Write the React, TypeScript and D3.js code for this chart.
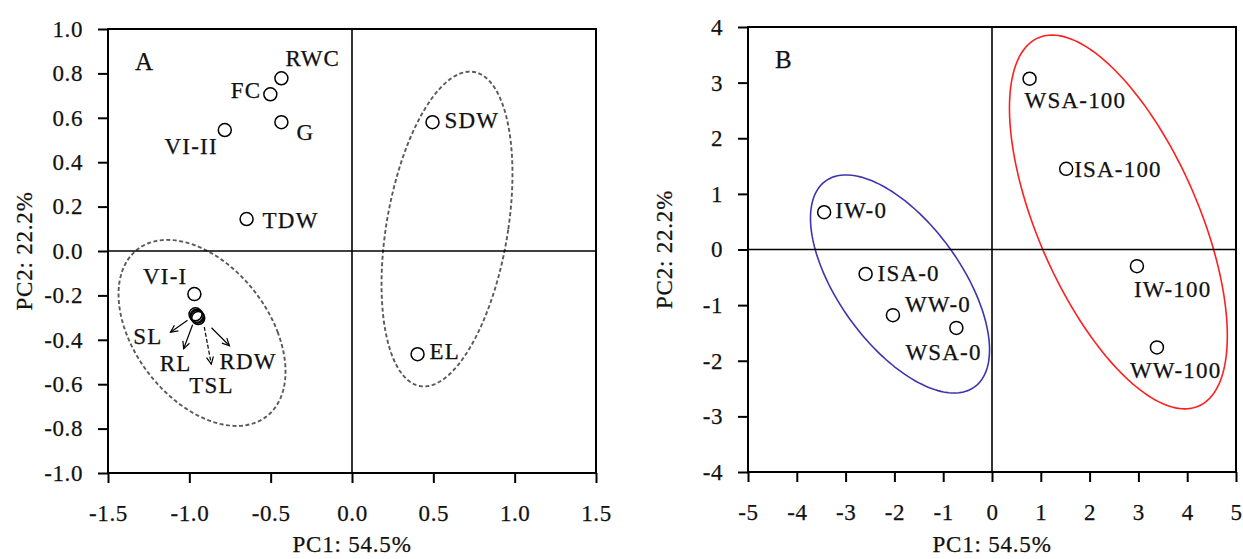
import React, { useEffect, useRef } from 'react'
import * as d3 from 'd3'

// Panel A - variable loadings
const varNames = ['RWC', 'FC', 'G', 'VI-II', 'TDW', 'SDW', 'EL', 'VI-I', 'SL', 'RL', 'TSL', 'RDW']
const varPC1 = [-0.434, -0.502, -0.434, -0.782, -0.648, 0.495, 0.403, -0.969, -0.962, -0.955, -0.945, -0.95]
const varPC2 = [0.778, 0.706, 0.58, 0.545, 0.144, 0.58, -0.465, -0.194, -0.285, -0.292, -0.302, -0.296]

// Panel B - treatment scores
const trtNames = ['WSA-100', 'ISA-100', 'IW-100', 'WW-100', 'IW-0', 'ISA-0', 'WW-0', 'WSA-0']
const trtPC1 = [0.77, 1.52, 2.97, 3.38, -3.44, -2.59, -2.03, -0.73]
const trtPC2 = [3.07, 1.45, -0.3, -1.76, 0.67, -0.44, -1.18, -1.41]

// group ellipses in data units: centre, x half-axis, x shear, y half-axis
const ellipseA = [
  { cx: -0.922, cy: -0.369, a: 0.467, b: -0.213, h: 0.419 },
  { cx: 0.584, cy: 0.099, a: 0.377, b: 0.141, h: 0.709 },
]
const ellipseB = [
  { cx: -1.885, cy: -0.62, a: 1.463, b: -1.107, h: 1.96 },
  { cx: 2.59, cy: 0.495, a: 1.77, b: -1.36, h: 3.36 },
]

const ticksA_x = [-1.5, -1.0, -0.5, 0.0, 0.5, 1.0, 1.5]
const ticksA_y = [-1.0, -0.8, -0.6, -0.4, -0.2, 0.0, 0.2, 0.4, 0.6, 0.8, 1.0]
const ticksB_x = [-5, -4, -3, -2, -1, 0, 1, 2, 3, 4, 5]
const ticksB_y = [-4, -3, -2, -1, 0, 1, 2, 3, 4]

// label placement (px from the point): dx, dy, anchor
const labelA: [number, number, string][] = [
  [4, -12, 'start'], [-9, 4, 'end'], [15, 18, 'start'], [-7, 24, 'end'], [16, 9, 'start'],
  [12, 6, 'start'], [12, 5, 'start'], [-7, -10, 'end'],
  [-33, 30, 'end'], [-37, 55, 'start'], [-9, 75, 'start'], [22, 52, 'start'],
]
const labelB: [number, number, string][] = [
  [-5, 29, 'start'], [8, 8, 'start'], [-3, 31, 'start'], [-27, 31, 'start'],
  [11, 6, 'start'], [12, 7, 'start'], [12, -3, 'start'], [-51, 32, 'start'],
]
// arrows for the overlapping cluster (index -> [x0, y0, x1, y1] px from point)
const arrowsA: Record<number, number[]> = {
  8: [-8, 6, -25, 18],
  9: [-4, 9, -13, 33],
  10: [6, 9, 13, 46],
  11: [14, 11, 32, 29],
}

const FONT = 'Liberation Serif, Times New Roman, serif'

const fmt1 = (v: number) => (Math.abs(v) < 1e-9 ? '0.0' : v.toFixed(1))
const fmt0 = (v: number) => String(v)

function drawPanel(svg: any, opt: any) {
  const { left, right, top, bottom, xDom, yDom, xTicks, yTicks, fmt, names, xs, ys, labels, ellipses, ellStyle, letter } = opt
  const x = d3.scaleLinear().domain(xDom).range([left, right])
  const y = d3.scaleLinear().domain(yDom).range([bottom, top])
  const g = svg.append('g')

  // ellipses
  const ts = d3.range(0, 2 * Math.PI + 0.01, Math.PI / 90)
  const line = d3.line<number[]>().x(d => x(d[0])).y(d => y(d[1])).curve(d3.curveLinearClosed)
  ellipses.forEach((e: any, i: number) => {
    const pts = ts.map(t => [e.cx + e.a * Math.cos(t) + e.b * Math.sin(t), e.cy + e.h * Math.sin(t)])
    const st = ellStyle[i]
    g.append('path')
      .attr('d', line(pts))
      .attr('fill', 'none')
      .attr('stroke', st.color)
      .attr('stroke-width', st.width)
      .attr('stroke-dasharray', st.dash)
  })

  // zero lines
  g.append('line').attr('x1', x(0)).attr('x2', x(0)).attr('y1', top).attr('y2', bottom)
    .attr('stroke', '#000').attr('stroke-width', 1.6)
  g.append('line').attr('x1', left).attr('x2', right).attr('y1', y(0)).attr('y2', y(0))
    .attr('stroke', '#000').attr('stroke-width', 1.6)

  // frame
  g.append('rect').attr('x', left).attr('y', top).attr('width', right - left).attr('height', bottom - top)
    .attr('fill', 'none').attr('stroke', '#000').attr('stroke-width', 2)

  // axes
  const ax = g.append('g').attr('transform', `translate(0,${bottom})`)
    .call(d3.axisBottom(x).tickValues(xTicks).tickFormat(fmt).tickSize(10).tickSizeOuter(0).tickPadding(22))
  const ay = g.append('g').attr('transform', `translate(${left},0)`)
    .call(d3.axisLeft(y).tickValues(yTicks).tickFormat(fmt).tickSize(10).tickSizeOuter(0).tickPadding(15))
  ;[ax, ay].forEach(a => {
    a.select('.domain').remove()
    a.selectAll('line').attr('stroke', '#000').attr('stroke-width', 2)
    a.selectAll('text').attr('font-family', FONT).attr('font-size', 23).attr('fill', '#111')
      .attr('letter-spacing', 0.6).attr('stroke', '#111').attr('stroke-width', 0.25)
  })

  // axis titles
  g.append('text').attr('x', (left + right) / 2).attr('y', 552).attr('text-anchor', 'middle')
    .attr('font-family', FONT).attr('font-size', 23).attr('letter-spacing', 0.8)
    .attr('fill', '#111').attr('stroke', '#111').attr('stroke-width', 0.25)
    .text('PC1: 54.5%')
  g.append('text').attr('transform', `translate(${left - 76},${(top + bottom) / 2}) rotate(-90)`)
    .attr('text-anchor', 'middle').attr('font-family', FONT).attr('font-size', 23).attr('letter-spacing', 0.8)
    .attr('fill', '#111').attr('stroke', '#111').attr('stroke-width', 0.25)
    .text('PC2: 22.2%')

  // panel letter
  g.append('text').attr('x', left + 27).attr('y', top + 41).attr('font-family', FONT).attr('font-size', 25)
    .attr('fill', '#111').attr('stroke', '#111').attr('stroke-width', 0.25).text(letter)

  // arrows
  if (opt.arrows) {
    Object.keys(opt.arrows).forEach(k => {
      const i = +k
      const [x0, y0, x1, y1] = opt.arrows[i]
      const px = x(xs[i]), py = y(ys[i])
      const sx = px + x0, sy = py + y0, ex = px + x1, ey = py + y1
      const ang = Math.atan2(ey - sy, ex - sx)
      const hl = 8
      g.append('line').attr('x1', sx).attr('y1', sy).attr('x2', ex).attr('y2', ey)
        .attr('stroke', '#000').attr('stroke-width', 1.2)
        .attr('stroke-dasharray', i === 10 ? '4,2' : null)
      g.append('path')
        .attr('d', `M${ex - hl * Math.cos(ang - 0.45)},${ey - hl * Math.sin(ang - 0.45)}L${ex},${ey}L${ex - hl * Math.cos(ang + 0.45)},${ey - hl * Math.sin(ang + 0.45)}`)
        .attr('fill', 'none').attr('stroke', '#000').attr('stroke-width', 1.2)
    })
  }

  // points
  g.selectAll('circle.pt').data(names).enter().append('circle')
    .attr('class', 'pt')
    .attr('cx', (_: any, i: number) => x(xs[i]))
    .attr('cy', (_: any, i: number) => y(ys[i]))
    .attr('r', 6.5)
    .attr('fill', 'none')
    .attr('stroke', '#000')
    .attr('stroke-width', 1.5)

  // labels
  g.selectAll('text.lbl').data(names).enter().append('text')
    .attr('class', 'lbl')
    .attr('x', (_: any, i: number) => x(xs[i]) + labels[i][0])
    .attr('y', (_: any, i: number) => y(ys[i]) + labels[i][1])
    .attr('text-anchor', (_: any, i: number) => labels[i][2])
    .attr('font-family', FONT)
    .attr('font-size', 23)
    .attr('letter-spacing', 1.2)
    .attr('fill', '#111')
    .attr('stroke', '#111')
    .attr('stroke-width', 0.25)
    .text((d: string) => d)
}

export default function App() {
  const ref = useRef<SVGSVGElement | null>(null)

  useEffect(() => {
    if (!ref.current) return
    const svg = d3.select(ref.current)
    svg.selectAll('*').remove()

    drawPanel(svg, {
      left: 108, right: 596, top: 29, bottom: 473,
      xDom: [-1.5, 1.5], yDom: [-1, 1], xTicks: ticksA_x, yTicks: ticksA_y, fmt: fmt1,
      names: varNames, xs: varPC1, ys: varPC2, labels: labelA,
      ellipses: ellipseA,
      ellStyle: [
        { color: '#5a5a5a', width: 1.9, dash: '4,2.5' },
        { color: '#5a5a5a', width: 1.9, dash: '4,2.5' },
      ],
      arrows: arrowsA,
      letter: 'A',
    })

    drawPanel(svg, {
      left: 748, right: 1236, top: 27, bottom: 472,
      xDom: [-5, 5], yDom: [-4, 4], xTicks: ticksB_x, yTicks: ticksB_y, fmt: fmt0,
      names: trtNames, xs: trtPC1, ys: trtPC2, labels: labelB,
      ellipses: ellipseB,
      ellStyle: [
        { color: '#3b36b0', width: 1.6, dash: null },
        { color: '#ff1f1f', width: 1.6, dash: null },
      ],
      letter: 'B',
    })
  }, [])

  return (
    <svg
      ref={ref}
      width={1243}
      height={559}
      style={{ position: 'absolute', left: 0, top: 0, background: '#fff' }}
    />
  )
}
